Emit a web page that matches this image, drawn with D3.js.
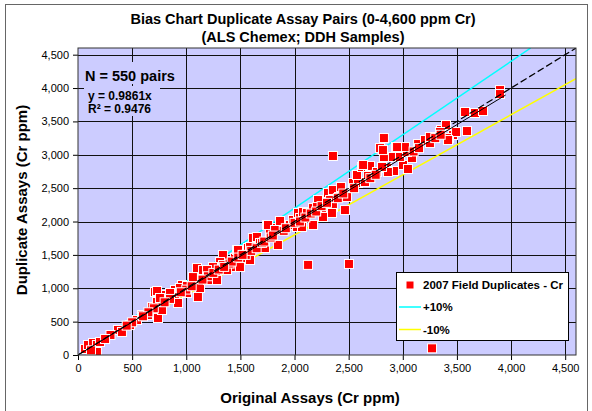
<!DOCTYPE html>
<html><head><meta charset="utf-8">
<script src="https://cdn.jsdelivr.net/npm/d3@7"></script>
<style>body{margin:0;background:#fff;}svg{display:block;font-family:Arial,"Liberation Sans",sans-serif;}</style>
</head><body>
<svg id="c" width="592" height="411"></svg>
<script>
// Original assay (x, Cr ppm) values
const origX = [65,92,139,175,175,203,120,369,406,480,545,591,647,684,739,776,730,711,804,896,924,961,896,942,1007,1099,1127,1108,1007,850,730,757,1062,1145,1099,1155,1219,1284,1201,1284,1358,1358,1432,1339,1450,1524,1589,1469,1570,1616,1653,1727,1746,1653,1773,1755,1838,1866,1894,1958,1986,2023,2032,2051,2069,2078,2115,2171,2171,2217,2254,2263,2309,2328,2355,2355,2411,2429,2466,2485,2540,2586,2651,2577,2679,2623,2679,2697,2762,2790,2854,2919,3002,3048,3085,2909,2974,3039,3020,2937,2826,2817,2826,3141,3205,3251,3251,3353,3399,3464,3427,3492,3593,3575,3667,3741,3898,3898,3344,3418,2947,2633,2863,2808,2208,2346,1820,1681,1847,1589,1478,1312,1247,1192,1496,1339,1376,
 1200,1250,1300,1400,1420,1550,1600,1650,1700,1720,1780,1800,1900,1920,2000,2050,2100,2150,2200,2250,2300,2400,1000,1050,950,850,800,700,650,600,500,450,300,250,1150,1350,1480,1520,2450,2550,2700,2750,3100,3150,3300,3350,
 3270,2125,2503,2355];
// Duplicate assay (y, Cr ppm) values
const dupY = [90,150,180,150,45,195,70,375,345,449,524,599,599,719,554,674,794,944,899,869,779,1049,974,1004,1034,1049,1004,869,929,929,959,854,1168,1198,1303,1273,1273,1243,1123,1123,1273,1378,1318,1498,1453,1453,1423,1573,1603,1753,1648,1603,1948,1768,1843,1948,1903,2008,1873,1948,2023,1918,2128,2053,1918,2143,2128,2202,1948,2322,2172,2068,2427,2322,2472,2217,2367,2517,2172,2367,2577,2577,2592,2697,2697,2817,2817,2832,2742,3101,2802,2757,2847,2787,2952,2967,2967,3041,3116,3116,2967,3071,3251,3161,3221,3176,3266,3371,3446,3296,3251,3341,3356,3641,3626,3656,3970,3910,3341,3221,3116,2847,2742,2817,2217,2128,1873,1678,1648,1618,1573,1393,1318,1273,1318,1349,1273,
 1180,1230,1280,1370,1400,1500,1560,1600,1680,1700,1760,1790,1860,1900,1980,2000,2060,2120,2150,2230,2280,2350,980,1030,940,840,790,700,640,580,490,440,300,240,1130,1320,1460,1500,2420,2500,2650,2700,3050,3100,3250,3300,
 100,1350,1364,2982];
const ticks = [0,500,1000,1500,2000,2500,3000,3500,4000,4500];
const slope = 0.9861, r2 = 0.9476, nPairs = 550;
const titleLines = ["Bias Chart Duplicate Assay Pairs (0-4,600 ppm Cr)", "(ALS Chemex; DDH Samples)"];
const legendItems = ["2007 Field Duplicates - Cr", "+10%", "-10%"];

const svg = d3.select("#c");
const x = d3.scaleLinear().domain([0,4600]).range([78,576]);
const y = d3.scaleLinear().domain([0,4600]).range([355,48]);
const fmt = d3.format(",");

svg.append("rect").attr("x",5.5).attr("y",4.5).attr("width",582).attr("height",430)
  .attr("fill","#fff").attr("stroke","#666").attr("stroke-width",1);

// plot area
svg.append("rect").attr("x",x(0)).attr("y",y(4600)).attr("width",x(4600)-x(0)).attr("height",y(0)-y(4600))
  .attr("fill","#CCCCFF");

const grid = svg.append("g");
ticks.filter(t=>t>0).forEach(t=>{
  grid.append("line").attr("x1",Math.round(x(t))+0.5).attr("x2",Math.round(x(t))+0.5).attr("y1",y(4600)).attr("y2",y(0))
    .attr("stroke","#111").attr("stroke-width",1);
  grid.append("line").attr("y1",Math.round(y(t))+0.5).attr("y2",Math.round(y(t))+0.5).attr("x1",x(0)).attr("x2",x(4600))
    .attr("stroke","#111").attr("stroke-width",1);
});

// axes
const xAxis = svg.append("g").attr("transform",`translate(0,${y(0)})`)
  .call(d3.axisBottom(x).tickValues(ticks).tickFormat(fmt).tickSize(5).tickSizeOuter(0));
const yAxis = svg.append("g").attr("transform",`translate(${x(0)},0)`)
  .call(d3.axisLeft(y).tickValues(ticks).tickFormat(fmt).tickSize(5).tickSizeOuter(0));
[xAxis,yAxis].forEach(a=>{
  a.select(".domain").remove();
  a.selectAll(".tick line").attr("stroke","#000");
  a.selectAll("text").attr("font-size","11px").attr("fill","#000").attr("font-family","Arial, Liberation Sans, sans-serif");
});
xAxis.selectAll("text").attr("dy","0.85em");
yAxis.selectAll("text").attr("dx","-1");

// clip
svg.append("clipPath").attr("id","pc").append("rect").attr("x",x(0)).attr("y",y(4600)).attr("width",x(4600)-x(0)).attr("height",y(0)-y(4600));
const plot = svg.append("g").attr("clip-path","url(#pc)");
const line = d3.line().x(d=>x(d[0])).y(d=>y(d[1]));

plot.append("path").datum([[150,150*1.1],[4600/1.1,4600]]).attr("d",line).attr("stroke","#00FFFF").attr("stroke-width",1.5).attr("fill","none");
plot.append("path").datum([[150,150*0.9],[4600,4600*0.9]]).attr("d",line).attr("stroke","#FFFF00").attr("stroke-width",1.5).attr("fill","none");

const pts = origX.map((v,i)=>[v,dupY[i]]);
plot.selectAll("rect.pt").data(pts).join("rect").attr("class","pt")
  .attr("x",d=>x(d[0])-4.5).attr("y",d=>y(d[1])-4.5).attr("width",9).attr("height",9)
  .attr("fill","#FF0000").attr("stroke","#fff").attr("stroke-width",1);

plot.append("path").datum([[0,0],[3950,3950*slope]]).attr("d",line).attr("stroke","#000").attr("stroke-width",1).attr("fill","none");
plot.append("path").datum([[0,0],[4600,4600]]).attr("d",line).attr("stroke","#000").attr("stroke-width",1.2).attr("stroke-dasharray","7,3").attr("fill","none");

// plot border
svg.append("rect").attr("x",x(0)).attr("y",y(4600)).attr("width",x(4600)-x(0)).attr("height",y(0)-y(4600))
  .attr("fill","none").attr("stroke","#333").attr("stroke-width",1);

// annotations
svg.append("rect").attr("x",83).attr("y",62).attr("width",98).attr("height",22).attr("fill","#CCCCFF");
svg.append("rect").attr("x",84).attr("y",86).attr("width",76).attr("height",30).attr("fill","#CCCCFF");
svg.append("text").attr("x",85).attr("y",81).attr("font-size","14.5px").attr("font-weight","bold").text(`N = ${nPairs} pairs`);
svg.append("text").attr("x",88).attr("y",100).attr("font-size","12px").attr("font-weight","bold").text(`y = ${slope}x`);
svg.append("text").attr("x",88).attr("y",112.5).attr("font-size","12px").attr("font-weight","bold").text(`R² = ${r2}`);

// titles
svg.append("text").attr("x",303).attr("y",23.5).attr("text-anchor","middle").attr("font-size","14.5px").attr("font-weight","bold").text(titleLines[0]);
svg.append("text").attr("x",303).attr("y",42).attr("text-anchor","middle").attr("font-size","14.5px").attr("font-weight","bold").text(titleLines[1]);
svg.append("text").attr("x",310).attr("y",402.5).attr("text-anchor","middle").attr("font-size","15px").attr("font-weight","bold").text("Original Assays (Cr ppm)");
svg.append("text").attr("transform","translate(26.5,200) rotate(-90)").attr("text-anchor","middle").attr("font-size","15px").attr("font-weight","bold").text("Duplicate Assays (Cr ppm)");

// legend
const lg = svg.append("g");
lg.append("rect").attr("x",396.5).attr("y",272.5).attr("width",172).attr("height",68).attr("fill","#fff").attr("stroke","#000").attr("stroke-width",1);
lg.append("rect").attr("x",406).attr("y",281).attr("width",8).attr("height",8).attr("fill","#FF0000").attr("stroke","#fff");
lg.append("line").attr("x1",399).attr("x2",421).attr("y1",307).attr("y2",307).attr("stroke","#00FFFF").attr("stroke-width",1.5);
lg.append("line").attr("x1",399).attr("x2",421).attr("y1",329.5).attr("y2",329.5).attr("stroke","#FFFF00").attr("stroke-width",1.5);
const ly = [289,311,333.5];
legendItems.forEach((t,i)=>{
  lg.append("text").attr("x",423).attr("y",ly[i]).attr("font-size","11.5px").attr("font-weight","bold").text(t);
});
</script>
</body></html>
